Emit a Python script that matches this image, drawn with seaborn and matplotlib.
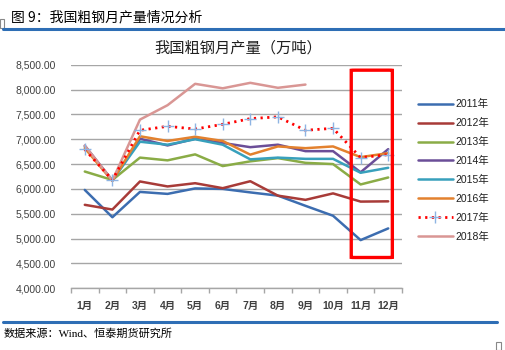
import numpy as np
import pandas as pd
import matplotlib
matplotlib.use("Agg")
import matplotlib.pyplot as plt
import seaborn as sns
from matplotlib.patches import FancyBboxPatch, Rectangle
from matplotlib.lines import Line2D
from matplotlib.ticker import FuncFormatter

months = ["1月", "2月", "3月", "4月", "5月", "6月", "7月", "8月", "9月", "10月", "11月", "12月"]
years = ["2011年", "2012年", "2013年", "2014年", "2015年", "2016年", "2017年", "2018年"]

y2011 = [5980, 5430, 5940, 5900, 6010, 6000, 5930, 5865, 5660, 5460, 4970, 5205]
y2012 = [5680, 5585, 6150, 6050, 6115, 6015, 6155, 5865, 5780, 5910, 5745, 5750]
y2013 = [6350, 6180, 6630, 6575, 6695, 6460, 6555, 6620, 6525, 6500, 6090, 6230]
y2014 = [6870, 6170, 7010, 6875, 7010, 6925, 6840, 6890, 6760, 6760, 6335, 6800]
y2015 = [6850, 6170, 6950, 6890, 7000, 6890, 6595, 6630, 6605, 6605, 6325, 6425]
y2016 = [6820, 6160, 7060, 6965, 7050, 6965, 6690, 6855, 6820, 6855, 6640, 6720]
y2017 = [6795, 6180, 7180, 7260, 7205, 7300, 7415, 7450, 7180, 7220, 6630, 6690]
y2018 = [6870, 6170, 7395, 7685, 8115, 8025, 8135, 8035, 8100, None, None, None]

series = [y2011, y2012, y2013, y2014, y2015, y2016, y2017, y2018]
colors = ["#3C6DB0", "#A83B38", "#8AAC46", "#6B4E98", "#38A0BC", "#E3812E", "#FF0000", "#D99694"]

yticks = [4000, 4500, 5000, 5500, 6000, 6500, 7000, 7500, 8000, 8500]

sns.set_theme(style="white")
plt.rcParams["font.family"] = ["Liberation Sans", "Noto Sans CJK SC", "DejaVu Sans"]

LW = 1.8
fig = plt.figure(figsize=(5.06, 3.5), dpi=100)
ax = fig.add_axes([71 / 506, 1 - 288.3 / 350, (402 - 71) / 506, (288.3 - 64.7) / 350])

for yr, vals, col in zip(years, series, colors):
    df = pd.DataFrame({"month": months, "value": vals}).dropna()
    if yr == "2017年":
        sns.lineplot(data=df, x="month", y="value", ax=ax, color=col, lw=LW + 0.2,
                     linestyle=(0, (0.8, 1.6)), marker="+", markersize=8,
                     markeredgecolor="#8EB4E3", markeredgewidth=1.0,
                     sort=False, legend=False, zorder=5)
    else:
        sns.lineplot(data=df, x="month", y="value", ax=ax, color=col, lw=LW,
                     sort=False, legend=False)

ax.set_xlim(-0.5, 11.5)
ax.set_ylim(4000, 8500)
ax.set_yticks(yticks)
ax.yaxis.set_major_formatter(FuncFormatter(lambda v, p: f"{v:,.2f}"))
ax.grid(axis="y", color="#A6A6A6", lw=1.0)
ax.set_axisbelow(True)
ax.set_xlabel("")
ax.set_ylabel("")
for s in ["top", "right", "left"]:
    ax.spines[s].set_visible(False)
ax.spines["bottom"].set_color("#A6A6A6")
ax.spines["bottom"].set_linewidth(1.0)

ax.set_xticks(range(12))
ax.set_xticklabels(months)
ax.set_xticks(np.arange(-0.5, 12, 1), minor=True)
ax.tick_params(axis="x", which="major", length=0, labelsize=7.5, pad=9, colors="#404040")
ax.tick_params(axis="x", which="minor", length=3.5, color="#A6A6A6", width=1.0, direction="out", bottom=True)
ax.tick_params(axis="y", length=0, labelsize=7.5, pad=11, colors="#404040")
for lab in ax.get_xticklabels():
    lab.set_fontweight("bold")
    lab.set_color("#404040")

# red highlight rectangle
rect = FancyBboxPatch((9.66, 4620), 11.15 - 9.66, 8390 - 4620,
                      boxstyle="round,pad=0,rounding_size=0.15", mutation_aspect=20.0,
                      fill=False, edgecolor="#FF0000", lw=2.4, clip_on=False, zorder=10)
ax.add_patch(rect)

# legend
handles = []
for yr, col in zip(years, colors):
    if yr == "2017年":
        h = Line2D([0, 0.5, 1], [0, 0, 0], color=col, lw=LW + 0.2, linestyle=(0, (0.8, 1.6)),
                   marker="+", markersize=8, markeredgecolor="#8EB4E3", markevery=[1])
    else:
        h = Line2D([], [], color=col, lw=LW)
    handles.append(h)
leg = fig.legend(handles, years, loc="upper left", bbox_to_anchor=(414 / 506, 1 - 95 / 350),
                 frameon=False, fontsize=7.5, handlelength=3.3, handletextpad=0.3,
                 labelspacing=0.85, borderaxespad=0)
for t in leg.get_texts():
    t.set_color("#202020")

# chart title
fig.text(238 / 506, 1 - 48.5 / 350, "我国粗钢月产量（万吨）", ha="center", va="center",
         fontsize=11, color="#202020", family=["Noto Sans CJK SC"])

# header
fig.text(11 / 506, 1 - 17 / 350, "图 9：我国粗钢月产量情况分析", ha="left", va="center",
         fontsize=10, color="#000000", family=["Noto Sans CJK SC"])
fig.add_artist(Line2D([3 / 506, 1.0], [1 - 28.5 / 350, 1 - 28.5 / 350], color="#2E6EB5", lw=2.2))
fig.add_artist(Rectangle((0 / 506, 1 - 28 / 350), 4 / 506, 9 / 350, fill=False,
                         edgecolor="#888888", lw=0.8))

# footer
fig.add_artist(Line2D([3 / 506, 497 / 506], [1 - 322 / 350, 1 - 322 / 350], color="#2E6EB5", lw=2.2))
fig.text(4 / 506, 1 - 334 / 350, "数据来源：Wind、恒泰期货研究所", ha="left", va="center",
         fontsize=8, color="#000000", family=["Liberation Serif", "Noto Sans CJK SC"])
fig.add_artist(Rectangle((496 / 506, 0), 5 / 506, 8 / 350, fill=False,
                         edgecolor="#888888", lw=0.8))

fig.savefig("out.png", dpi=100)
